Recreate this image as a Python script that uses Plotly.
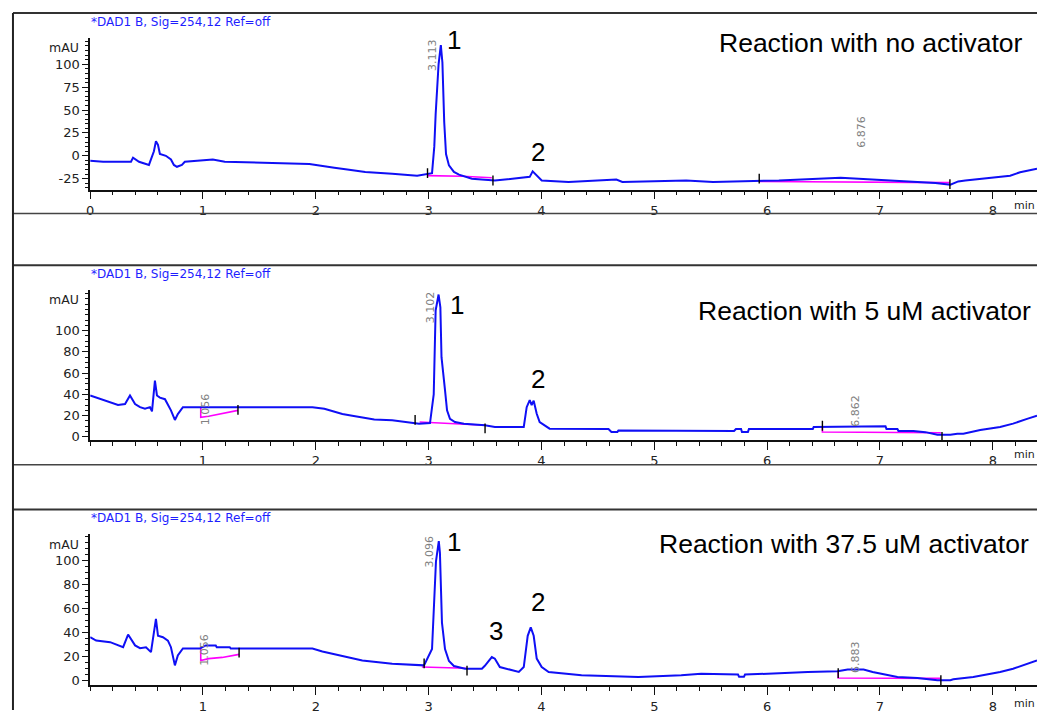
import plotly.graph_objects as go

W, H = 1037, 715

# ---------------- data (time in min, signal in mAU) ----------------
t1 = [0.00, 0.115, 0.362, 0.38, 0.433, 0.521, 0.565, 0.583, 0.601, 0.618, 0.671, 0.716, 0.742, 0.769,
      0.813, 0.839, 1.087, 1.193, 1.943, 2.076, 2.164, 2.279, 2.341, 2.438, 2.677, 2.898, 3.030, 3.050,
      3.062, 3.088, 3.108, 3.122, 3.138, 3.154, 3.180, 3.224, 3.269, 3.339, 3.383, 3.587, 3.896, 3.922,
      3.958, 4.002, 4.240, 4.664, 4.717, 5.283, 5.521, 6.104, 6.652, 7.085, 7.253, 7.491, 7.624, 7.694,
      7.756, 7.889, 8.021, 8.154, 8.242, 8.304, 8.392]
v1 = [-5.4, -6.5, -6.5, -2, -6.5, -10, 5, 16, 12, 2, 0, -4, -10, -12,
      -10, -6.5, -4, -6.5, -9, -11, -13, -15, -16, -17.6, -19.6, -21.7, -19, 10,
      45, 100, 121, 102, 37, 2, -10.5, -17.6, -20.6, -23, -25, -27, -23, -17,
      -21, -27, -28.6, -26, -28.6, -27, -28.5, -27, -24, -27, -28.5, -29.6, -31.5, -28,
      -27, -25, -23, -21.7, -18, -16, -14]

t2 = [0.0, 0.088, 0.177, 0.247, 0.309, 0.353, 0.398, 0.442, 0.486, 0.530, 0.548, 0.574, 0.592, 0.618,
      0.663, 0.689, 0.716, 0.751, 0.777, 0.822, 1.970, 2.076, 2.147, 2.235, 2.323, 2.412, 2.518, 2.677,
      2.836, 2.915, 3.012, 3.045, 3.062, 3.088, 3.104, 3.114, 3.145, 3.163, 3.189, 3.233, 3.313, 3.498,
      3.587, 3.843, 3.869, 3.896, 3.913, 3.931, 3.958, 3.984, 4.072, 4.594, 4.620, 4.673, 4.682, 5.707,
      5.724, 5.769, 5.777, 5.830, 5.839, 6.405, 6.413, 6.502, 6.511, 7.049, 7.058, 7.155, 7.164, 7.297,
      7.403, 7.509, 7.624, 7.686, 7.739, 7.889, 8.065, 8.180, 8.304, 8.392]
v2 = [39, 36, 32.7, 30, 31, 39, 31, 28, 26.5, 28, 24, 53, 39, 37,
      35.5, 31, 25, 16, 21.5, 28, 28, 26.5, 24, 21.5, 20, 18.7, 16.5, 15.6,
      13.4, 12.5, 13, 40, 119, 134, 122, 75, 44, 25, 17, 14, 12.5, 11,
      9.4, 9.4, 28, 34.6, 30, 34, 21.8, 14, 7.8, 7.5, 4.7, 4.7, 6, 5.6,
      7.5, 7.5, 4.7, 4.7, 7.5, 7.5, 9.4, 9.4, 10, 10, 7.5, 7.5, 5.6, 5.6,
      4.5, 2, 2, 3, 3, 6.5, 9.4, 12.5, 17, 20]

t3 = [0.0, 0.053, 0.177, 0.247, 0.292, 0.336, 0.398, 0.442, 0.495, 0.539, 0.565, 0.583, 0.601, 0.645,
      0.689, 0.716, 0.751, 0.777, 0.822, 0.972, 1.025, 1.113, 1.122, 1.237, 1.246, 1.970, 2.058, 2.147,
      2.235, 2.323, 2.412, 2.677, 2.959, 3.030, 3.048, 3.065, 3.090, 3.100, 3.118, 3.145, 3.180, 3.224,
      3.322, 3.472, 3.498, 3.560, 3.587, 3.631, 3.799, 3.843, 3.878, 3.905, 3.931, 3.958, 4.002, 4.064,
      4.355, 4.859, 5.239, 5.415, 5.742, 5.751, 5.795, 5.804, 6.360, 6.625, 6.714, 6.855, 6.935, 7.067,
      7.155, 7.332, 7.509, 7.624, 7.650, 7.827, 7.951, 8.065, 8.180, 8.304, 8.392]
v3 = [35.8, 33, 31.7, 29, 27.5, 38, 29, 26.7, 27.5, 23.4, 40, 51, 37, 35.8,
      33, 27.5, 12.4, 20.6, 26.4, 26.4, 29, 29, 27.5, 27.5, 26.4, 26.4, 24, 22,
      20, 18.4, 16.5, 13.7, 12.4, 26, 70, 99, 115.7, 106, 48, 26, 16, 11.8,
      9.6, 9.6, 12, 19.3, 17.9, 11, 6.9, 11, 37, 44, 37, 18, 11, 6.9,
      4.1, 2.8, 4.1, 5.5, 4.7, 3, 3, 4.7, 6.9, 7.5, 9, 9, 6.9, 4.1,
      2.8, 1.9, 0, 0, 0.8, 2.8, 4.7, 6.9, 9.6, 13.7, 16.5]

# integration baselines (magenta)
base1 = [([2.99, 3.30, 3.56], [-21.7, -22.3, -24.0]),
         ([5.93, 7.62], [-28.0, -29.3])]
base2 = [([0.98, 0.98, 1.05, 1.17, 1.31], [28, 18.5, 19.5, 22, 25]),
         ([2.92, 3.50], [14, 11]),
         ([6.49, 6.49, 7.54], [9.4, 4.7, 4.0])]
base3 = [([0.98, 0.98, 1.05, 1.17, 1.32], [27, 16.5, 18, 19, 21.5]),
         ([2.94, 3.33], [11, 10]),
         ([6.63, 6.63, 7.54], [7.2, 1.9, 1.6])]

# integration event marks (black ticks)
ev1_t = [2.99, 3.57, 5.93, 7.62]
ev1_v = [-19, -27, -25, -31]
ev2_t = [1.31, 2.88, 3.50, 6.49, 7.55]
ev2_v = [25.5, 16, 8, 10.5, 0]
ev3_t = [1.32, 2.96, 3.34, 6.63, 7.54]
ev3_v = [23, 14, 8, 6, 0]

# retention-time labels (text, min)
rt1 = ["3.113", "6.876"]
rt2 = ["3.102", "6.862", "1.056"]
rt3 = ["3.096", "6.883", "1.056"]

titles = ["Reaction with no activator", "Reaction with 5 uM activator", "Reaction with 37.5 uM activator"]
signal_label = "*DAD1 B, Sig=254,12 Ref=off"

y1_ticks = [-25, 0, 25, 50, 75, 100]
y23_ticks = [0, 20, 40, 60, 80, 100]
x1_ticks = [0, 1, 2, 3, 4, 5, 6, 7, 8]
x23_ticks = [1, 2, 3, 4, 5, 6, 7, 8]

# ---------------- helpers ----------------
def PX(x):
    return x / W

def PY(y):
    return 1 - y / H

BLUE = "rgb(15,15,245)"
PINK = "rgb(255,0,255)"

fig = go.Figure()

panels = [
    (t1, v1, base1, ev1_t, ev1_v, "x", "y"),
    (t2, v2, base2, ev2_t, ev2_v, "x2", "y2"),
    (t3, v3, base3, ev3_t, ev3_v, "x3", "y3"),
]
for t, v, bases, et, ev, xa, ya in panels:
    for bx, by in bases:
        fig.add_trace(go.Scatter(x=bx, y=by, mode="lines", line=dict(color=PINK, width=1.6),
                                 xaxis=xa, yaxis=ya, hoverinfo="skip", showlegend=False))
    fig.add_trace(go.Scatter(x=t, y=v, mode="lines", line=dict(color=BLUE, width=2),
                             xaxis=xa, yaxis=ya, showlegend=False))
    fig.add_trace(go.Scatter(x=et, y=ev, mode="markers",
                             marker=dict(symbol="line-ns", size=7, line=dict(color="black", width=1.4)),
                             xaxis=xa, yaxis=ya, hoverinfo="skip", showlegend=False))

tickfont = dict(family="DejaVu Sans", size=13, color="#222")
xdom = [PX(86.5), 1.0]

def xaxis(anchor, tickvals):
    return dict(domain=xdom, anchor=anchor, range=[0, 8.392], showgrid=False, zeroline=False,
                showline=True, linecolor="#111", linewidth=1.5, ticks="outside", ticklen=8, tickwidth=1.3,
                tickcolor="#111", tickvals=tickvals, ticktext=[str(v) for v in tickvals], tickfont=tickfont,
                minor=dict(dtick=0.2, tick0=0, ticks="outside", ticklen=4, tickcolor="#111", tickwidth=1.2,
                           showgrid=False))

def yaxis(anchor, dom, rng, tickvals):
    return dict(domain=dom, anchor=anchor, range=rng, showgrid=False, zeroline=False,
                showline=True, linecolor="#111", linewidth=1.5, ticks="outside", ticklen=6, tickwidth=1.3,
                tickcolor="#111", tickvals=tickvals, ticktext=[str(v) for v in tickvals], tickfont=tickfont,
                minor=dict(dtick=5, tick0=0, ticks="outside", ticklen=3, tickcolor="#111", tickwidth=1.1,
                           showgrid=False))

layout = dict(
    width=W, height=H, margin=dict(l=0, r=0, t=0, b=0),
    paper_bgcolor="white", plot_bgcolor="white",
    xaxis=xaxis("y", x1_ticks),
    xaxis2=xaxis("y2", x23_ticks),
    xaxis3=xaxis("y3", x23_ticks),
    yaxis=yaxis("x", [PY(191), PY(38)], [-37, 129], y1_ticks),
    yaxis2=yaxis("x2", [PY(443), PY(292)], [-2.8, 138.3], y23_ticks),
    yaxis3=yaxis("x3", [PY(690), PY(538)], [-4.1, 121.5], y23_ticks),
)
layout["yaxis"]["ticktext"] = ["-25", "0", "25", "50", "75", "100"]
fig.update_layout(**layout)

ann = []
def A(text, x, y, size, color="black", family="Liberation Sans", xanchor="center", angle=0):
    ann.append(dict(text=text, x=PX(x), y=PY(y), xref="paper", yref="paper", showarrow=False,
                    xanchor=xanchor, yanchor="middle", textangle=angle,
                    font=dict(family=family, size=size, color=color)))

# signal labels
for yy in (22, 276, 522):
    A(signal_label, 85, yy, 12, color="rgb(30,30,255)", family="DejaVu Sans", xanchor="left")
# mAU
for yy in (48, 302, 548):
    A("mAU", 60, yy, 12.5, color="#222", family="DejaVu Sans")
# min unit label
for yy in (207, 458, 708):
    A("min", 1037, yy, 11, color="#222", family="DejaVu Sans", xanchor="right")
# titles
A(titles[0], 1025, 43, 26.5, xanchor="right")
A(titles[1], 1033, 313, 26.5, xanchor="right")
A(titles[2], 1031, 548, 26.5, xanchor="right")
# peak numbers
A("1", 452, 40, 26); A("2", 536, 153, 26)
A("1", 455, 307, 26); A("2", 536, 382, 26)
A("1", 452, 546, 26); A("3", 494, 635, 26); A("2", 536, 606, 26)
# retention-time labels (rotated)
GR = "#808080"
A(rt1[0], 430, 55, 11, color=GR, family="DejaVu Sans", angle=-90)
A(rt1[1], 860, 133, 11, color=GR, family="DejaVu Sans", angle=-90)
A(rt2[0], 428, 309, 11, color=GR, family="DejaVu Sans", angle=-90)
A(rt2[1], 854, 414, 11, color=GR, family="DejaVu Sans", angle=-90)
A(rt2[2], 202, 412, 11, color=GR, family="DejaVu Sans", angle=-90)
A(rt3[0], 427, 555, 11, color=GR, family="DejaVu Sans", angle=-90)
A(rt3[1], 855, 662, 11, color=GR, family="DejaVu Sans", angle=-90)
A(rt3[2], 201, 654, 11, color=GR, family="DejaVu Sans", angle=-90)
fig.update_layout(annotations=ann)

# frame lines of the stacked screenshots
shapes = []
for yy, col, w in ((13, "#333", 2), (215, "#444", 1.6), (267, "#333", 2), (468, "#444", 1.6), (513, "#333", 2)):
    shapes.append(dict(type="line", xref="paper", yref="paper", x0=PX(9), x1=1, y0=PY(yy), y1=PY(yy),
                       line=dict(color=col, width=w)))
shapes.append(dict(type="line", xref="paper", yref="paper", x0=PX(9), x1=PX(9), y0=PY(13), y1=0,
                   line=dict(color="#222", width=2)))
fig.update_layout(shapes=shapes)

fig.write_html("out.html")
